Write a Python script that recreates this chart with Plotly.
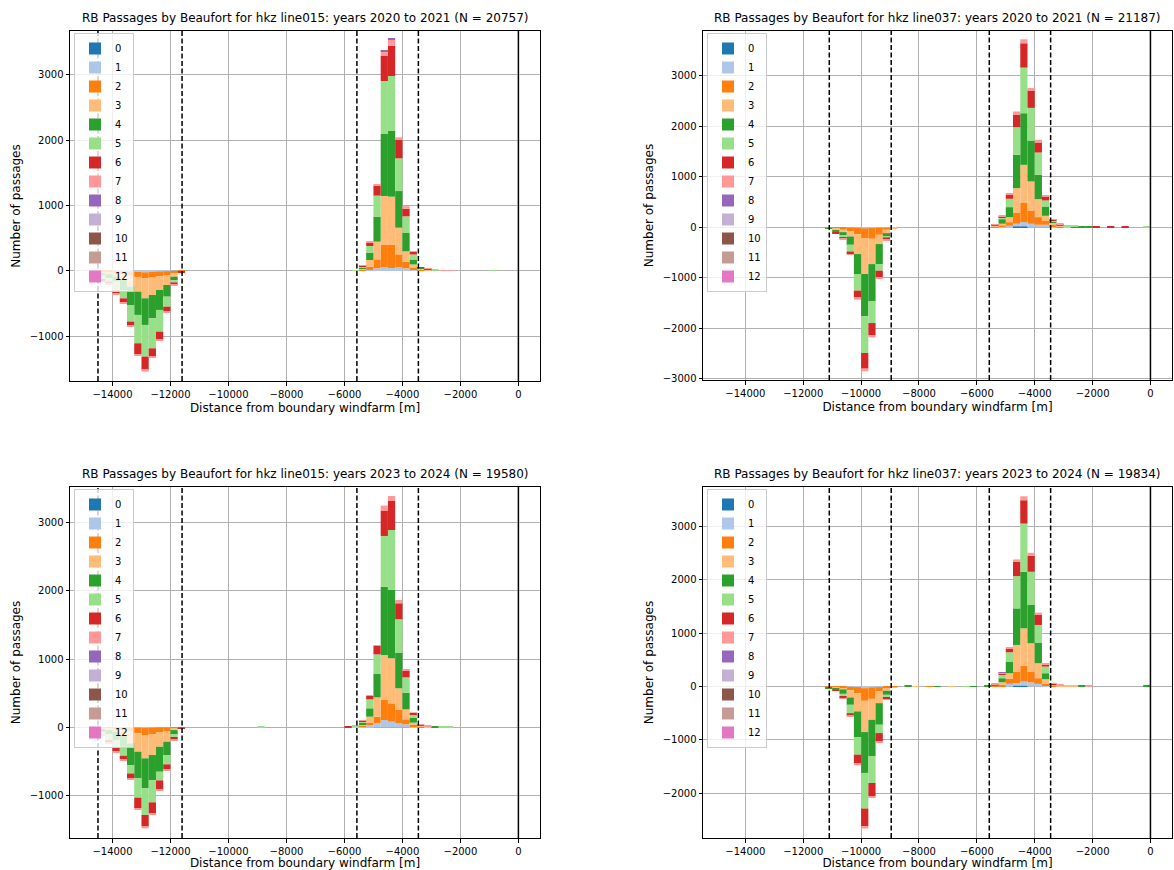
import plotly.graph_objects as go

# ---------------- data ----------------
BIN_WIDTH = 250
CLASS_LABELS = [str(k) for k in range(13)]
COLORS = ["#1f77b4", "#aec7e8", "#ff7f0e", "#ffbb78", "#2ca02c", "#98df8a", "#d62728",
          "#ff9896", "#9467bd", "#c5b0d5", "#8c564b", "#c49c94", "#e377c2"]

TITLES = [
    "RB Passages by Beaufort for hkz line015: years 2020 to 2021 (N = 20757)",
    "RB Passages by Beaufort for hkz line037: years 2020 to 2021 (N = 21187)",
    "RB Passages by Beaufort for hkz line015: years 2023 to 2024 (N = 19580)",
    "RB Passages by Beaufort for hkz line037: years 2023 to 2024 (N = 19834)",
]
X_LABEL = "Distance from boundary windfarm [m]"
Y_LABEL = "Number of passages"

X_TICKS = [-14000, -12000, -10000, -8000, -6000, -4000, -2000, 0]
X_TICK_TEXT = ["\u221214000", "\u221212000", "\u221210000", "\u22128000", "\u22126000",
               "\u22124000", "\u22122000", "0"]
Y_TICKS_TL = [-1000, 0, 1000, 2000, 3000]
Y_TICKS_TR = [-3000, -2000, -1000, 0, 1000, 2000, 3000]
Y_TICKS_BL = [-1000, 0, 1000, 2000, 3000]
Y_TICKS_BR = [-2000, -1000, 0, 1000, 2000, 3000]

LINES_015 = [-14500, -11600, -5570, -3450]
LINES_037 = [-11100, -8960, -5570, -3450]

# ---- line015, 2020-2021 (top left) ----
TL_NEG_BINS = [-14500, -14250, -14000, -13750, -13500, -13250, -13000, -12750, -12500, -12250, -12000, -11750]
TL_NEG = {
    1: [0, 0, 0, -5, -10, -15, -20, -15, -10, -5, 0, 0],
    2: [-20, -25, -36, -46, -61, -76, -92, -87, -71, -56, -36, -5],
    3: [-15, -25, -51, -87, -168, -224, -305, -265, -209, -153, -51, -5],
    4: [-36, -61, -76, -153, -280, -356, -407, -356, -305, -178, -51, -5],
    5: [-51, -51, -132, -127, -254, -433, -483, -458, -331, -153, -36, 0],
    6: [-31, -31, -51, -61, -66, -168, -204, -122, -122, -71, -31, -5],
    7: [-10, -10, -15, -15, -15, -20, -25, -20, -20, -15, -10, 0],
}
TL_POS_BINS = [-5750, -5500, -5250, -5000, -4750, -4500, -4250, -4000, -3750, -3500, -3250, -3000, -2750, -2500, -1000]
TL_POS = {
    1: [0, 5, 15, 41, 56, 46, 56, 40, 25, 10, 0, 0, 0, 0, 0],
    2: [0, 20, 51, 137, 341, 351, 198, 100, 30, 15, 10, 0, 0, 0, 0],
    3: [0, 15, 102, 270, 748, 738, 407, 160, 45, 15, 15, 0, 0, 0, 0],
    4: [5, 20, 112, 382, 947, 1003, 560, 280, 76, 10, 5, 10, 0, 0, 0],
    5: [10, 10, 102, 321, 809, 840, 499, 255, 76, 5, 0, 10, 0, 0, 10],
    6: [0, 10, 51, 153, 382, 463, 280, 115, 40, 5, 5, 0, 0, 0, 0],
    7: [0, 5, 10, 10, 76, 97, 41, 40, 13, 0, 5, 0, 8, 8, 0],
    8: [0, 0, 0, 0, 15, 5, 0, 0, 0, 0, 0, 0, 0, 0, 0],
}

# ---- line037, 2020-2021 (top right) ----
TR_NEG_BINS = [-11250, -11000, -10750, -10500, -10250, -10000, -9750, -9500, -9250, -9000]
TR_NEG = {
    1: [0, 0, 0, -7, -13, -26, -20, -13, -13, 0],
    2: [-20, -33, -53, -79, -125, -191, -211, -138, -40, -13],
    3: [-7, -33, -46, -99, -395, -711, -501, -184, -66, -7],
    4: [-7, -33, -66, -165, -395, -837, -738, -395, -66, 0],
    5: [0, -13, -40, -132, -329, -725, -428, -132, -20, 0],
    6: [0, -7, -26, -53, -145, -310, -244, -132, -46, 0],
    7: [0, 0, -13, -13, -33, -53, -40, -33, -13, 0],
}
TR_POS_BINS = [-5500, -5250, -5000, -4750, -4500, -4250, -4000, -3750, -3500, -3250, -3000, -2750,
               -2500, -2250, -2000, -1500, -1000, -250]
TR_POS = {
    0: [0, 0, 0, 13, 13, 0, 0, 0, 0, 0, 0, 0, 0, 0, 0, 0, 0, 0],
    1: [0, 7, 26, 53, 86, 66, 46, 46, 10, 0, 0, 0, 0, 0, 0, 0, 0, 0],
    2: [15, 20, 72, 224, 389, 264, 152, 86, 30, 20, 0, 0, 0, 0, 0, 0, 0, 0],
    3: [15, 40, 99, 481, 744, 573, 356, 92, 40, 20, 15, 0, 0, 0, 0, 0, 0, 0],
    4: [15, 90, 198, 659, 1021, 810, 481, 184, 40, 10, 0, 15, 20, 15, 0, 0, 0, 0],
    5: [0, 40, 165, 547, 903, 646, 441, 119, 20, 0, 25, 10, 0, 0, 0, 0, 0, 8],
    6: [10, 13, 79, 244, 481, 343, 198, 79, 10, 10, 0, 0, 0, 0, 8, 6, 6, 0],
    7: [4, 10, 20, 66, 79, 53, 53, 20, 8, 6, 0, 0, 0, 0, 0, 0, 0, 0],
}

# ---- line015, 2023-2024 (bottom left) ----
BL_NEG_BINS = [-14500, -14250, -14000, -13750, -13500, -13250, -13000, -12750, -12500, -12250, -12000, -11750]
BL_NEG = {
    1: [0, 0, 0, -5, -10, -10, -15, -10, -5, -5, 0, 0],
    2: [-15, -20, -29, -39, -59, -83, -103, -98, -74, -54, -20, -5],
    3: [-15, -25, -39, -74, -172, -270, -343, -304, -211, -157, -25, -5],
    4: [-39, -64, -123, -172, -319, -392, -441, -368, -368, -196, -64, -5],
    5: [-34, -83, -113, -132, -123, -284, -392, -328, -127, -137, -49, 0],
    6: [-10, -34, -54, -49, -74, -152, -167, -167, -137, -69, -29, -5],
    7: [-5, -10, -15, -15, -15, -20, -29, -20, -20, -15, -10, 0],
}
BL_POS_BINS = [-9000, -6000, -5750, -5500, -5250, -5000, -4750, -4500, -4250, -4000, -3750, -3500,
               -3250, -3000, -2750, -2500]
BL_POS = {
    1: [0, 0, 0, 5, 25, 54, 103, 78, 54, 39, 10, 0, 0, 0, 0, 0],
    2: [0, 0, 0, 20, 39, 98, 294, 270, 196, 74, 20, 10, 0, 0, 0, 0],
    3: [0, 0, 5, 15, 88, 284, 662, 662, 319, 147, 34, 15, 10, 0, 0, 0],
    4: [0, 0, 5, 25, 123, 343, 1005, 1005, 525, 245, 74, 5, 0, 15, 0, 0],
    5: [8, 0, 5, 15, 132, 289, 745, 882, 490, 225, 49, 0, 0, 0, 10, 10],
    6: [0, 10, 0, 15, 49, 127, 373, 426, 235, 98, 24, 0, 0, 0, 0, 0],
    7: [0, 0, 0, 8, 10, 10, 74, 74, 49, 25, 0, 9, 15, 0, 0, 0],
}

# ---- line037, 2023-2024 (bottom right) ----
BR_NEG_BINS = [-11250, -11000, -10750, -10500, -10250, -10000, -9750, -9500, -9250, -9000]
BR_NEG = {
    1: [0, 0, 0, -6, -12, -31, -19, -12, -6, 0],
    2: [-10, -20, -31, -62, -112, -236, -212, -81, -37, -10],
    3: [-10, -15, -25, -137, -342, -585, -392, -218, -37, -6],
    4: [-10, -30, -81, -137, -485, -765, -684, -404, -75, 0],
    5: [0, -10, -50, -156, -324, -666, -498, -156, -50, 0],
    6: [0, -6, -31, -50, -174, -330, -249, -156, -31, 0],
    7: [0, 0, -12, -12, -25, -44, -31, -31, -12, 0],
}
BR_POS_BINS = [-8500, -8250, -7750, -7500, -7000, -6500, -6250, -5750, -5500, -5250, -5000, -4750,
               -4500, -4250, -4000, -3750, -3500, -3250, -3000, -2750, -2500, -2250, -250]
BR_POS = {
    0: [0, 0, 0, 0, 0, 0, 0, 0, 0, 0, 0, 12, 12, 0, 0, 0, 0, 0, 0, 0, 0, 0, 0],
    1: [0, 0, 0, 0, 0, 0, 0, 0, 0, 6, 50, 50, 81, 75, 50, 19, 0, 0, 0, 0, 0, 0, 0],
    2: [0, 0, 8, 0, 0, 0, 0, 0, 15, 25, 93, 218, 299, 205, 106, 31, 15, 0, 0, 0, 0, 0, 0],
    3: [0, 8, 0, 0, 8, 0, 0, 0, 10, 50, 106, 498, 697, 529, 280, 87, 20, 15, 15, 10, 0, 0, 0],
    4: [10, 0, 0, 8, 0, 0, 8, 10, 15, 75, 218, 684, 1058, 716, 386, 112, 10, 0, 0, 0, 10, 0, 12],
    5: [0, 0, 0, 0, 0, 8, 0, 0, 0, 62, 174, 604, 902, 622, 330, 124, 0, 12, 0, 0, 0, 0, 0],
    6: [0, 0, 0, 0, 0, 0, 0, 0, 5, 31, 62, 268, 436, 299, 187, 44, 10, 0, 0, 0, 0, 0, 0],
    7: [0, 0, 0, 0, 0, 0, 0, 0, 5, 10, 31, 44, 75, 56, 44, 19, 7, 10, 0, 0, 0, 10, 0],
    8: [0, 0, 0, 0, 0, 0, 0, 0, 0, 9, 0, 0, 0, 0, 0, 0, 0, 0, 0, 0, 0, 0, 0],
}

# ---------------- layout geometry (pixels) ----------------
W, H = 1174, 870
FONT = "DejaVu Sans"
panels = [
    dict(neg_bins=TL_NEG_BINS, neg=TL_NEG, pos_bins=TL_POS_BINS, pos=TL_POS, lines=LINES_015,
         yticks=Y_TICKS_TL, yrange=[-1680, 3665], px=(70, 540), py=(31, 381)),
    dict(neg_bins=TR_NEG_BINS, neg=TR_NEG, pos_bins=TR_POS_BINS, pos=TR_POS, lines=LINES_037,
         yticks=Y_TICKS_TR, yrange=[-3025, 3880], px=(703, 1172), py=(31, 380)),
    dict(neg_bins=BL_NEG_BINS, neg=BL_NEG, pos_bins=BL_POS_BINS, pos=BL_POS, lines=LINES_015,
         yticks=Y_TICKS_BL, yrange=[-1632, 3529], px=(70, 540), py=(487, 838)),
    dict(neg_bins=BR_NEG_BINS, neg=BR_NEG, pos_bins=BR_POS_BINS, pos=BR_POS, lines=LINES_037,
         yticks=Y_TICKS_BR, yrange=[-2834, 3733], px=(703, 1172), py=(487, 838)),
]
X_RANGE = [-15465, 745]

fig = go.Figure()
layout = dict(
    width=W, height=H, margin=dict(l=0, r=0, t=0, b=0, pad=0),
    template="none", paper_bgcolor="white", plot_bgcolor="white",
    barmode="relative", font=dict(family=FONT, size=10, color="black"),
    shapes=[], annotations=[],
)

for i, p in enumerate(panels):
    n = "" if i == 0 else str(i + 1)
    xa, ya = "x" + n, "y" + n
    leg = "legend" + n
    xs = p["neg_bins"] + p["pos_bins"]
    for k, label in enumerate(CLASS_LABELS):
        yv = p["neg"].get(k, [0] * len(p["neg_bins"])) + p["pos"].get(k, [0] * len(p["pos_bins"]))
        fig.add_trace(go.Bar(
            x=xs, y=yv, width=BIN_WIDTH, offset=0, name=label,
            marker=dict(color=COLORS[k], line=dict(width=0)),
            xaxis=xa, yaxis=ya, legend=leg, showlegend=True,
            hovertemplate="%{x}: %{y}<extra>" + label + "</extra>",
        ))
    x0, x1 = p["px"]
    y0, y1 = p["py"]
    common = dict(showgrid=True, gridcolor="#b0b0b0", gridwidth=0.8, zeroline=False,
                  showline=True, linecolor="black", linewidth=1, mirror=True,
                  ticks="outside", ticklen=3.5, tickwidth=0.8, tickcolor="black",
                  tickfont=dict(family=FONT, size=10, color="black"), automargin=False)
    layout["xaxis" + n] = dict(
        domain=[x0 / W, x1 / W], anchor=ya, range=X_RANGE,
        tickmode="array", tickvals=X_TICKS, ticktext=X_TICK_TEXT,
        title=dict(text=X_LABEL, font=dict(family=FONT, size=12, color="black"), standoff=5),
        **common)
    layout["yaxis" + n] = dict(
        domain=[1 - y1 / H, 1 - y0 / H], anchor=xa, range=p["yrange"],
        tickmode="array", tickvals=p["yticks"],
        ticktext=[("\u2212" + str(-v)) if v < 0 else str(v) for v in p["yticks"]],
        title=dict(text=Y_LABEL, font=dict(family=FONT, size=12, color="black"), standoff=6),
        **common)
    layout[leg] = dict(
        x=(x0 + 4) / W, y=1 - (y0 + 2) / H, xanchor="left", yanchor="top",
        bgcolor="rgba(255,255,255,0.8)", bordercolor="#cccccc", borderwidth=1,
        font=dict(family=FONT, size=10, color="black"), traceorder="normal",
    )
    for xv in p["lines"]:
        layout["shapes"].append(dict(type="line", xref=xa, yref=ya + " domain", x0=xv, x1=xv, y0=0, y1=1,
                                     line=dict(color="black", width=1.5, dash="5px,2.5px")))
    layout["shapes"].append(dict(type="line", xref=xa, yref=ya + " domain", x0=0, x1=0, y0=0, y1=1,
                                 line=dict(color="black", width=1.5)))
    layout["annotations"].append(dict(
        text=TITLES[i], xref="paper", yref="paper", x=(x0 + x1) / 2 / W, y=1 - y0 / H,
        xanchor="center", yanchor="bottom", yshift=4, showarrow=False,
        font=dict(family=FONT, size=12, color="black")))

fig.update_layout(**layout)
fig.write_html("out.html")
